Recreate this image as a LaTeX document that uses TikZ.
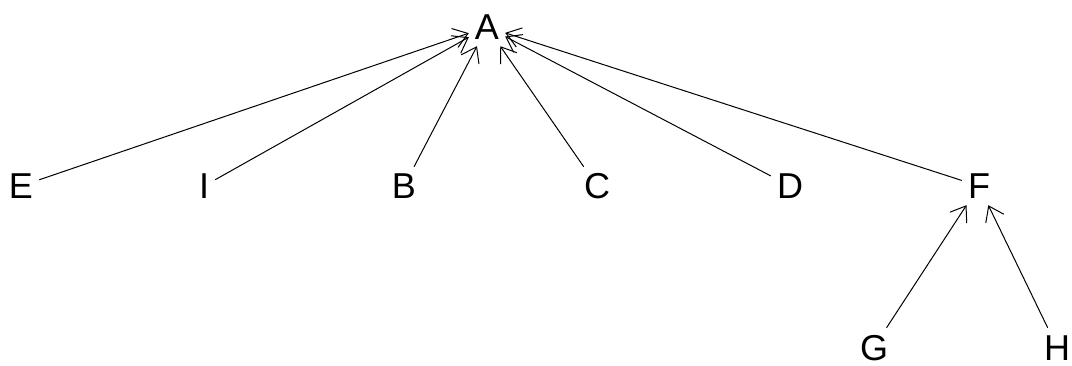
\documentclass[tikz,border=0pt]{standalone}
\usepackage{fontspec}
\setmainfont{Liberation Sans}
\usetikzlibrary{arrows.meta}
\begin{document}
\begin{tikzpicture}[x=1pt,y=-1pt,
  lbl/.style={font=\fontsize{36}{36}\selectfont, inner sep=6pt, text height=26pt, text depth=0pt},
  edge/.style={line width=1pt, -{Straight Barb[length=14pt,width=20pt,line width=1pt]}}]
\useasboundingbox (0,0) rectangle (1072,366);
\node[lbl] (A) at (487,27) {A};
\node[lbl] (E) at (21,186) {E};
\node[lbl] (I) at (204,186) {I};
\node[lbl] (B) at (404,186) {B};
\node[lbl] (C) at (597,186) {C};
\node[lbl] (D) at (790,186) {D};
\node[lbl] (F) at (979,186) {F};
\node[lbl] (G) at (874,347) {G};
\node[lbl] (H) at (1057,347) {H};
\draw[edge] (E) -- (A);
\draw[edge] (I) -- (A);
\draw[edge] (B) -- (A);
\draw[edge] (C) -- (A);
\draw[edge] (D) -- (A);
\draw[edge] (F) -- (A);
\draw[edge] (G) -- (F);
\draw[edge] (H) -- (F);
\end{tikzpicture}
\end{document}
